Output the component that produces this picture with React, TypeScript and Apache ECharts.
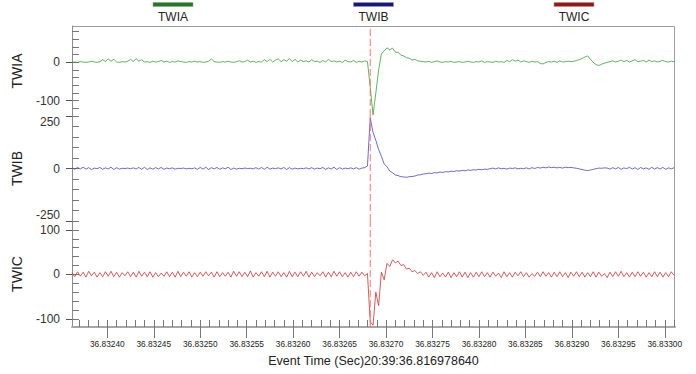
import React, { useEffect, useRef } from "react";
import * as echarts from "echarts";

const seriesNames = ["TWIA", "TWIB", "TWIC"];
const lineColors = ["#36a036", "#4646c0", "#c83232"];
const swatchColors = ["#1d7d1d", "#15158a", "#9e1414"];

// sample grid of the record (s)
const sampleStart = 36.832362;
const sampleStep = 0.000003;
const eventTime = 36.832683;
const xMin = 36.832362;
const xMax = 36.833011;

const twiaValues = [
  0, 1, 0, 2, 1, 0, 1, 3, 1, 0, 2,
  7, 2, 9, 3, 8,
  1, 0, 2, 1, 3,
  8, 2, 10, 3, 7,
  1, 2, 0, 3, 1,
  2, 5, 1, 3, 0, 2, 1, 4, 2, 1,
  0, 2, 1, 3, 1, 2, 0, 1,
  3, 9, 2, 1,
  0, 2, 1, 3, 1, 0, 2, 4, 1, 2,
  6, 1, 3, 0, 2, 1, 7, 2,
  8, 1, 6, 9, 2, 7, 3, 10, 2, 8, 1, 6,
  2, 4, 1, 7, 2, 3, 0, 5, 1, 8, 2, 4, 1,
  3, 0, 6, 2, 1, 5, 0, 3, 1, 4, 2,
  -65, -137, -80, -20, 22, 30, 38, 33, 37, 27, 26, 19, 17, 12, 11, 6, 8, 4, 3, 2,
  1, 3, 0, 2, 4, 1, 0, 2, 1, 3, 0, 1, 2, 0,
  1, 3, 1, 0, 2, 1, 4, 0, 2, 1, 0, 3, 1, 2, 0,
  5, 2, 7, 3, 6,
  1, 4, 2, 0, 3, 1, 2, -3, -4, 0,
  2, 1, 3, 0, 4, 1, 2, 3, 2,
  3, 5, 7, 10, 14, 17, 8, 0, -6, -8, -5, -2,
  0, 2, 4, 1, 3, 6, 2, 5, 1, 4, 7, 2, 3, 5, 1, 6, 2, 4, 1, 3, 5, 2, 1, 3, 2,
];

const twibValues = [
  3, -4, 5, -2, 6, -3, 4, -5, 2, -1, 5, -4, 3, -2, 6, -5, 4, -3, 1, 0, 2, -1, 3, -2, 5, -4, 6, -5, 3, -3,
  4, -2, 5, -4, 2, -1, 3, -3, 1, 0, 2, -2, 1, -1, 3, -4, 5, -3, 6, -5, 4, -2, 5, -4, 3, -1, 6, -5, 2, -3,
  1, -1, 2, 0, 1, -2, 4, -3, 5, -4, 6, -3, 2, -1, 3, -2, 5, -5, 4, -3, 2, -2, 1, -1, 3, -2, 4, -3, 2, -1,
  5, -4, 3, -2, 6, -5, 4, -3, 2, -1, 3, -2, 4, -3, 2, 4, 12,
  240, 172, 134, 90, 58, 22, 8, -12, -20, -31, -34, -39, -40, -42, -39, -38, -36, -31, -30, -26,
  -25, -22, -24, -20, -21, -17, -19, -15, -16, -13, -14, -11, -12, -9, -11, -7, -9, -6, -7, -4, -6, -3, -4, -1,
  2, -2, 3, -1, 1, -3, 2, 0, 3, -2, 1, -1, 3, -2, 4, 0, 5, 2, 6, 3, 7, 4, 6, 3, 5, 2, 6, 4, 5,
  3, 1, -2, -5, -8, -10, -7, -4, -1, 2, 1, 3,
  2, -3, 4, -2, 5, -4, 3, -1, 6, -3, 4, -5, 5, -2, 3, -4, 6, -3, 4, -2, 5, -4, 3, -2, 4,
];

const twicValues = [
  4, -5, 6, -4, 5, -6, 7, -3, 5, -6, 4, -5, 6, -4, 7, -5, 5, -6, 4, -3,
  6, -5, 5, -6, 7, -4, 5, -5, 6, -6, 4, -5, 3, -4, 6, -5, 5, -6, 7, -5,
  5, -4, 6, -6, 4, -5, 5, -4, 6, -3, 5, -6, 6, -5, 4, -4, 5, -6, 7, -4,
  6, -5, 5, -5, 8, -6, 4, -4, 6, -5, 7, -6, 5, -4, 6, -5, 4, -6, 7, -5,
  5, -5, 6, -4, 7, -6, 5, -5, 4, -3, 6, -6, 5, -5, 7, -4, 6, -5, 4, -6,
  5, -5, 6, -4, 5, -3, 2,
  -106, -114, -40, -70, 5, -12, 25, 18, 33, 26, 30, 20, 22, 12, 14, 6, 9, 2, 6, -2,
  5, -6, 4, -7, 6, -5, 3, -6, 5, -7, 4, -5, 6, -6, 5, -7, 4, -6, 5, -5,
  6, -5, 4, -6, 5, -4, 3, -7, 6, -5, 4, -6, 5, -3, 6, -5, 4, -6, 2, -4,
  5, -5, 6, -4, 4, -6, 5, -5, 6, -5, 4, -7, 5, -4, 6, -5, 5, -6, 4, -5,
  6, -6, 5, -4, 2, -7, 5, -5, 6, -4, 7, -5, 4, -6, 5, -5, 6, -4, 5, -6,
  4, -5, 6, -5, 5, -6, 4, -5, 6, -2,
];

const yMins = [-140, -250, -118];
const yMaxs = [95, 250, 120];
const yLabelValues = [
  [-100, 0],
  [-250, 0, 250],
  [-100, 0, 100],
];
const yTickSteps = [20, 50, 20];
const xLabelValues = [
  36.8324, 36.83245, 36.8325, 36.83255, 36.8326, 36.83265, 36.8327,
  36.83275, 36.8328, 36.83285, 36.8329, 36.83295, 36.833,
];
const xMinorScale = 100000; // minor ticks every 1e-5 s
const xAxisTitle = "Event Time (Sec)20:39:36.816978640";

const FONT = "'Liberation Sans', Arial, sans-serif";

const GRID_LEFT = 72;
const GRID_RIGHT = 21;
const gridTops = [26, 116, 221];
const gridHeights = [90, 105, 106];

export default function App() {
  const ref = useRef<HTMLDivElement>(null);

  useEffect(() => {
    document.body.style.margin = "0";
    if (!ref.current) return;
    const chart = echarts.init(ref.current, undefined, { renderer: "svg" });

    const allValues = [twiaValues, twibValues, twicValues];
    const seriesData = allValues.map((vals) =>
      vals.map((v, i) => [Number((sampleStart + i * sampleStep).toFixed(7)), v])
    );

    const minorTicks: number[] = [];
    for (
      let k = Math.ceil(xMin * xMinorScale - 1e-6);
      k <= Math.floor(xMax * xMinorScale + 1e-6);
      k++
    ) {
      minorTicks.push(k / xMinorScale);
    }

    const yTickValues = yMins.map((mn, g) => {
      const out: number[] = [];
      const st = yTickSteps[g];
      for (let v = Math.ceil(mn / st) * st; v <= yMaxs[g]; v += st) out.push(v);
      return out;
    });

    const grids = gridTops.map((top, g) => ({
      left: GRID_LEFT,
      right: GRID_RIGHT,
      top,
      height: gridHeights[g],
      outerBoundsMode: "none",
      containLabel: false,
    }));

    const xAxes: any[] = [
      { gridIndex: 0, type: "value", min: xMin, max: xMax, show: false },
      { gridIndex: 1, type: "value", min: xMin, max: xMax, show: false },
      {
        gridIndex: 2,
        type: "value",
        min: xMin,
        max: xMax,
        position: "bottom",
        axisLine: { show: true, onZero: false, lineStyle: { color: "#a6a6a6", width: 2 } },
        axisTick: {
          show: true,
          inside: true,
          length: 7,
          customValues: minorTicks,
          lineStyle: { color: "#777", width: 1 },
        },
        axisLabel: {
          show: true,
          customValues: xLabelValues,
          formatter: (v: number) => v.toFixed(5),
          fontSize: 8.3,
          color: "#222",
          margin: 13,
          fontFamily: FONT,
        },
        splitLine: { show: false },
        name: xAxisTitle,
        nameLocation: "middle",
        nameGap: 27,
        nameMoveOverlap: false,
        nameTextStyle: { fontSize: 12.5, color: "#222", fontFamily: FONT },
      },
      {
        gridIndex: 2,
        type: "value",
        min: xMin,
        max: xMax,
        position: "bottom",
        axisLine: { show: false, onZero: false },
        axisTick: {
          show: true,
          inside: false,
          length: 11,
          customValues: xLabelValues,
          lineStyle: { color: "#777", width: 1 },
        },
        axisLabel: { show: false },
        splitLine: { show: false },
      },
    ];

    const yAxes: any[] = [];
    for (let g = 0; g < 3; g++) {
      yAxes.push({
        gridIndex: g,
        type: "value",
        min: yMins[g],
        max: yMaxs[g],
        position: "left",
        axisLine: { show: true, onZero: false, lineStyle: { color: "#8c8c8c", width: 1 } },
        axisTick: {
          show: true,
          inside: true,
          length: 7,
          customValues: yTickValues[g],
          lineStyle: { color: "#777", width: 1 },
        },
        axisLabel: {
          show: true,
          customValues: yLabelValues[g],
          fontSize: 12,
          color: "#333",
          margin: 12,
          fontFamily: FONT,
          ...(g === 1 ? { verticalAlignMinLabel: "bottom", verticalAlignMaxLabel: "top" } : {}),
        },
        splitLine: { show: false },
        name: seriesNames[g],
        nameLocation: "middle",
        nameGap: 48,
        nameMoveOverlap: false,
        nameTextStyle: { fontSize: 14, color: "#222", fontFamily: FONT },
      });
      yAxes.push({
        gridIndex: g,
        type: "value",
        min: yMins[g],
        max: yMaxs[g],
        position: "left",
        axisLine: { show: false, onZero: false },
        axisTick: {
          show: true,
          inside: false,
          length: 6,
          customValues: yLabelValues[g],
          lineStyle: { color: "#555", width: 1 },
        },
        axisLabel: { show: false },
        splitLine: { show: false },
      });
    }

    const xAxisForGrid = [0, 1, 2];
    const series: any[] = seriesData.map((data, g) => ({
      name: seriesNames[g],
      type: "line",
      xAxisIndex: xAxisForGrid[g],
      yAxisIndex: g * 2,
      data,
      symbol: "none",
      showSymbol: false,
      lineStyle: { color: lineColors[g], width: 0.8 },
      itemStyle: { color: swatchColors[g] },
      z: 2,
    }));
    // dashed event-time cursor in every panel
    for (let g = 0; g < 3; g++) {
      series.push({
        name: "event-" + g,
        type: "line",
        xAxisIndex: xAxisForGrid[g],
        yAxisIndex: g * 2,
        data: [
          [eventTime, yMins[g]],
          [eventTime, yMaxs[g]],
        ],
        symbol: "none",
        showSymbol: false,
        silent: true,
        lineStyle: { color: "#ff6464", type: [7, 3], width: 1, opacity: 0.9 },
        z: 3,
      });
    }

    const plotCenter = GRID_LEFT + (696 - GRID_LEFT - GRID_RIGHT) / 2;
    const legendSpacing = 200.5;
    const legendGraphics: any[] = [];
    seriesNames.forEach((nm, i) => {
      const cx = plotCenter + (i - 1) * legendSpacing;
      legendGraphics.push({
        type: "rect",
        shape: { x: cx - 20, y: 2.5, width: 40, height: 4 },
        style: { fill: swatchColors[i], stroke: "#9a9a9a", lineWidth: 0.6 },
        silent: true,
      });
      legendGraphics.push({
        type: "text",
        x: cx,
        y: 17,
        style: {
          text: nm,
          fill: "#222",
          fontSize: 12,
          fontFamily: FONT,
          align: "center",
          verticalAlign: "middle",
        },
        silent: true,
      });
    });

    const plotWidth = 696 - GRID_LEFT - GRID_RIGHT;
    const plotHeight = gridTops[2] + gridHeights[2] - gridTops[0];
    legendGraphics.push({
      type: "rect",
      z: -1,
      shape: { x: GRID_LEFT + 0.5, y: gridTops[0] + 0.5, width: plotWidth - 1, height: plotHeight },
      style: { fill: "none", stroke: "#9c9c9c", lineWidth: 1 },
      silent: true,
    });

    chart.setOption({
      animation: false,
      backgroundColor: "#ffffff",
      textStyle: { fontFamily: FONT },
      grid: grids,
      xAxis: xAxes,
      yAxis: yAxes,
      series,
      graphic: legendGraphics,
      tooltip: { show: false },
    });

    return () => chart.dispose();
  }, []);

  return (
    <div
      ref={ref}
      style={{ position: "fixed", left: 0, top: 0, width: 696, height: 374, background: "#fff" }}
    />
  );
}
